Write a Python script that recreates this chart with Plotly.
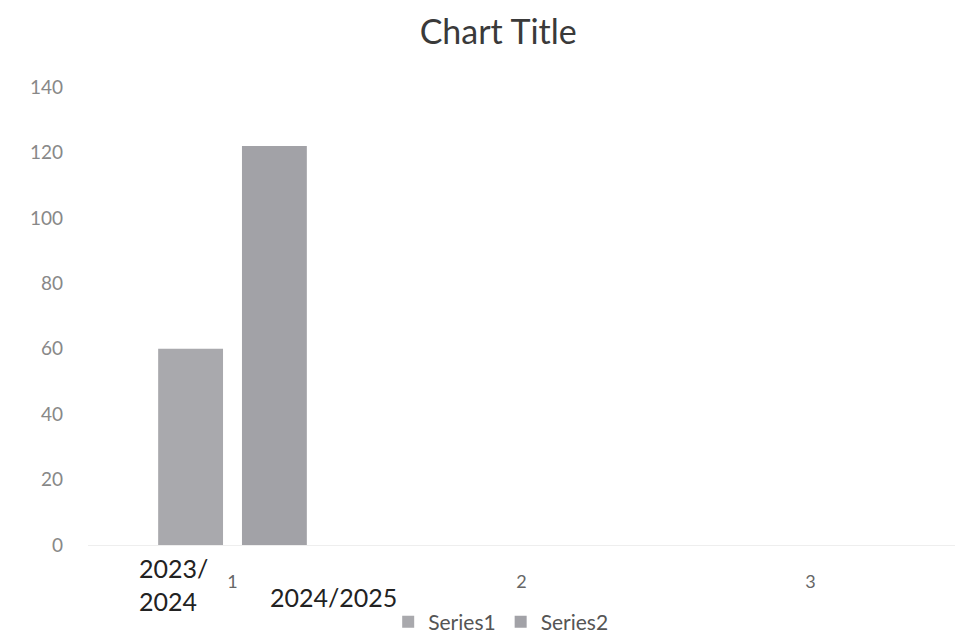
import plotly.graph_objects as go

categories = [1, 2, 3]
series1 = [60, None, None]
series2 = [122, None, None]
series_names = ["Series1", "Series2"]
y_ticks = [0, 20, 40, 60, 80, 100, 120, 140]
notes = ["2023/<br>2024", "2024/2025"]
note_x = [0.795, 1.35]
note_y = [-0.087, -0.114]

FONT = "Lato"
fig = go.Figure()
fig.add_trace(go.Bar(x=categories, y=series1, name=series_names[0],
                     marker=dict(color="#a9a9ad", line=dict(width=0))))
fig.add_trace(go.Bar(x=categories, y=series2, name=series_names[1],
                     marker=dict(color="#a2a2a7", line=dict(width=0))))

for t, x, y in zip(notes, note_x, note_y):
    fig.add_annotation(x=x, y=y, text=t, showarrow=False, xref="x", yref="paper",
                       yanchor="middle", xanchor="center",
                       font=dict(family=FONT, size=25, color="#222222"),
                       align="left")

fig.update_layout(
    width=975, height=638,
    margin=dict(l=88, r=20, t=87, b=93, autoexpand=False),
    paper_bgcolor="white", plot_bgcolor="white",
    barmode="group", bargap=0.42, bargroupgap=0.226,
    title=dict(text="Chart Title", x=0.511, xanchor="center", y=0.95, yanchor="middle",
               font=dict(family=FONT, size=34, color="#3a3a3a")),
    font=dict(family=FONT),
    showlegend=True,
    legend=dict(orientation="h", x=0.476, xanchor="center", y=-0.213, yanchor="bottom",
                font=dict(family=FONT, size=21, color="#555555"),
                itemwidth=30, traceorder="normal"),
)
fig.update_xaxes(range=[0.5, 3.5], tickmode="array", tickvals=categories,
                 ticktext=[str(c) for c in categories], showgrid=False,
                 zeroline=False, showline=True, linecolor="#eeeeee", linewidth=1,
                 ticks="", ticklabelstandoff=20, automargin=False,
                 tickfont=dict(family=FONT, size=18, color="#666666"))
fig.update_yaxes(range=[0, 140], tickmode="array", tickvals=y_ticks,
                 showgrid=False, zeroline=False, showline=False, ticks="",
                 ticklabelstandoff=24, automargin=False,
                 tickfont=dict(family=FONT, size=19, color="#888888"))

fig.write_html("out.html")
